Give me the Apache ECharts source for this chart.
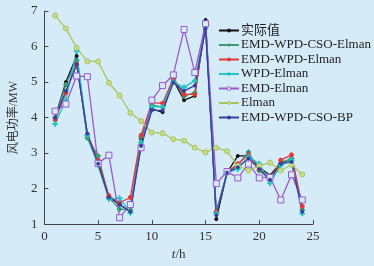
<!DOCTYPE html>
<html><head><meta charset="utf-8">
<script src="https://cdn.jsdelivr.net/npm/echarts@6/dist/echarts.min.js"></script>
<style>html,body{margin:0;padding:0;background:#d5ebf8}#c{width:374px;height:266px}</style>
</head><body><div id="c"></div>
<script>
var hours = [1,2,3,4,5,6,7,8,9,10,11,12,13,14,15,16,17,18,19,20,21,22,23,24];
var actual    = [4.0,5.0,5.73,3.45,2.7,1.78,1.55,1.35,3.4,4.24,4.15,5.06,4.49,4.61,6.75,1.14,2.45,2.92,2.92,2.6,2.37,2.73,2.83,1.41];
var emdWpdCsoElman = [4.0,4.93,5.61,3.42,2.92,1.75,1.42,1.4,3.45,4.35,4.3,5.1,4.6,4.7,6.6,1.33,2.45,2.65,3.03,2.5,2.3,2.7,2.85,1.4];
var emdWpdElman = [3.94,4.7,5.5,3.53,2.8,1.8,1.6,1.75,3.5,4.42,4.4,5.1,4.65,4.65,6.6,1.35,2.45,2.7,2.95,2.55,2.25,2.8,2.95,1.5];
var wpdElman  = [3.82,4.5,5.88,3.5,2.65,1.71,1.73,1.32,3.3,4.3,4.3,5.0,4.85,5.04,6.55,1.3,2.45,2.55,2.9,2.7,2.15,2.65,2.8,1.3];
var emdElman  = [4.18,4.38,5.17,5.15,2.71,2.94,1.18,1.55,3.15,4.49,4.9,5.2,6.48,5.27,6.64,2.14,2.48,2.3,2.69,2.3,2.32,1.68,2.39,1.68];
var elman     = [6.87,6.51,5.96,5.58,5.58,4.98,4.62,4.13,3.9,3.58,3.56,3.39,3.35,3.15,3.02,3.15,3.05,2.64,2.51,2.64,2.73,2.51,2.67,2.4];
var emdWpdCsoBp = [4.0,4.75,5.5,3.55,2.7,1.75,1.55,1.35,3.2,4.2,4.2,4.98,4.75,4.9,6.5,1.25,2.45,2.6,2.85,2.55,2.25,2.7,2.75,1.35];
var names = ['实际值','EMD-WPD-CSO-Elman','EMD-WPD-Elman','WPD-Elman','EMD-Elman','Elman','EMD-WPD-CSO-BP'];
var xTicks = [0,5,10,15,20,25];
var yTicks = [1,2,3,4,5,6,7];

function pts(arr){ return hours.map(function(h,i){ return [h, arr[i]]; }); }
var styles = [
  {c:'#111111', s:'circle', z:3, f:'#111111'},
  {c:'#3c9a72', s:'diamond', z:5, f:'#3c9a72'},
  {c:'#e0383a', s:'circle', z:4, f:'#e0383a'},
  {c:'#22c4c8', s:'path://M4,0H6V4H10V6H6V10H4V6H0V4H4Z', z:5, f:'#22c4c8'},
  {c:'#9a5ac8', s:'rect', z:6, f:'#d5ebf8'},
  {c:'#a9c45e', s:'circle', z:5, f:'#c7dc8c'},
  {c:'#3340a0', s:'circle', z:3, f:'#3340a0'}
];
var datas = [actual, emdWpdCsoElman, emdWpdElman, wpdElman, emdElman, elman, emdWpdCsoBp];
var series = datas.map(function(d,i){
  var st = styles[i];
  return {
    name: names[i], type:'line', data: pts(d),
    symbol: st.s, symbolSize: st.z, showSymbol:true,
    lineStyle:{color:st.c, width:1.3},
    itemStyle:{color:st.f, borderColor:st.c, borderWidth:1},
    emphasis:{disabled:true}, animation:false
  };
});
var font = "'Liberation Serif','Noto Sans CJK SC',serif";
var chart = echarts.init(document.getElementById('c'));
chart.setOption({
  backgroundColor:'#d5ebf8',
  animation:false,
  grid:{left:34, right:61, top:11, bottom:36},
  legend:{
    orient:'vertical', left:213, top:19, itemGap:1.5,
    itemWidth:20, itemHeight:4,
    itemStyle:{borderWidth:0.8},
    textStyle:{fontFamily:font, fontSize:13, color:'#222', padding:[0,0,0,-3]},
    data: names
  },
  xAxis:{
    type:'value', min:0, max:25, interval:5,
    axisLine:{lineStyle:{color:'#444', width:1}},
    axisTick:{inside:true, length:4, lineStyle:{color:'#444'}},
    splitLine:{show:false},
    axisLabel:{fontFamily:font, fontSize:13, color:'#333', margin:6,
      formatter:function(v){ return xTicks.indexOf(v)>=0 ? String(v) : ''; }},
    name:'{i|t}/h', nameLocation:'middle', nameGap:21,
    nameTextStyle:{fontFamily:font, fontSize:13, color:'#333',
      rich:{i:{fontFamily:font, fontStyle:'italic', fontSize:13, color:'#333'}}}
  },
  yAxis:{
    type:'value', min:1, max:7, interval:1,
    axisLine:{show:true, lineStyle:{color:'#444', width:1}},
    axisTick:{show:true, inside:true, length:4, lineStyle:{color:'#444'}},
    splitLine:{show:false},
    axisLabel:{fontFamily:font, fontSize:13, color:'#333', margin:7,
      formatter:function(v){ return yTicks.indexOf(v)>=0 ? String(v) : ''; }},
    name:'风电功率/MW', nameLocation:'middle', nameGap:21, nameRotate:90,
    nameTextStyle:{fontFamily:font, fontSize:12, color:'#333'}
  },
  series: series
});
</script></body></html>
